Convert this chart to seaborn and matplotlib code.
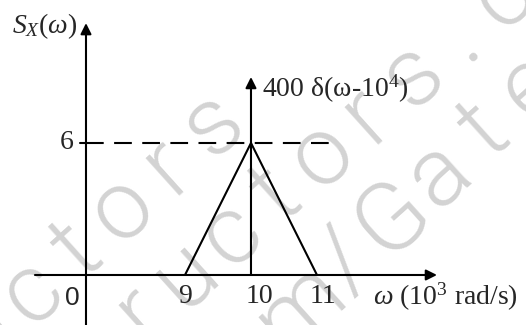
import numpy as np
import pandas as pd
import seaborn as sns
import matplotlib.pyplot as plt

# triangle part of the spectrum (x in 10^3 rad/s)
tri_w = [9, 10, 11]
tri_s = [0, 6, 0]
peak_level = 6
# impulse at w = 10 (drawn as an arrow, height is only symbolic)
imp_w = 10
imp_h = 9.0
imp_label = "400 δ(ω-10$^4$)"
tick_w = [9, 10, 11]
tick_lbl = ["9", "10", "11"]
origin = 7.5  # the w axis is broken: the y axis sits here and is labelled 0

sns.set_theme(style="white")
plt.rcParams["font.family"] = ["Liberation Serif", "DejaVu Serif"]
plt.rcParams["mathtext.fontset"] = "custom"
plt.rcParams["mathtext.rm"] = "Liberation Serif"
plt.rcParams["mathtext.it"] = "Liberation Serif:italic"

fig = plt.figure(figsize=(5.26, 3.25), dpi=100)

# watermark, letter by letter, on a background axes in pixel units
bg = fig.add_axes([0, 0, 1, 1], zorder=0)
bg.set_xlim(0, 526)
bg.set_ylim(325, 0)
bg.axis("off")


def watermark(s, idx, x0, y0, dx, dy):
    for i, ch in enumerate(s):
        k = i - idx
        bg.text(x0 + k * dx, y0 + k * dy, ch, color="#d3d3d3", fontsize=70,
                rotation=42, ha="center", va="center", family=["Roboto", "DejaVu Sans"],
                fontweight=300)


watermark("instructors", 6, 32, 292, 45, -42)
watermark("instructors.com", 4, 140, 313, 45.3, -39.7)
watermark(".com/Gate", 5, 392, 218, 46, -44)

ax = fig.add_axes([0, 0, 1, 1], zorder=1)
ax.patch.set_alpha(0)
ax.set_xlim(6.197, 14.167)
ax.set_ylim(-2.273, 12.5)
ax.axis("off")

lw = 1.5
arrow = dict(arrowstyle="-|>", color="black", lw=lw, mutation_scale=16, shrinkA=0, shrinkB=0)

# axes
ax.annotate("", xy=(12.818, 0), xytext=(6.727, 0), arrowprops=arrow)
ax.annotate("", xy=(origin, 11.45), xytext=(origin, -2.4), arrowprops=arrow)

# triangle
df = pd.DataFrame({"w": tri_w, "s": tri_s})
sns.lineplot(data=df, x="w", y="s", ax=ax, color="black", lw=lw, sort=False, estimator=None)

# dashed level line + tick
ax.plot([origin, 11.24], [peak_level, peak_level], color="black", lw=lw, dashes=(8.5, 5))
ax.plot([origin - 0.09, origin], [peak_level, peak_level], color="black", lw=lw)

# impulse
ax.annotate("", xy=(imp_w, imp_h), xytext=(imp_w, 0), arrowprops=arrow)
fs = 20
ax.text(imp_w + 0.16, imp_h - 0.55, imp_label, fontsize=fs, ha="left", va="center")

# labels
shift = [0.0, 0.13, 0.09]
for w, t, d in zip(tick_w, tick_lbl, shift):
    ax.text(w + d, -1.0, t, fontsize=fs, ha="center", va="center")
ax.text(origin - 0.21, -1.05, "0", fontsize=fs - 1, ha="center", va="center", family="Liberation Sans")
ax.text(origin - 0.18, peak_level, "6", fontsize=fs, ha="right", va="center")
ax.text(11.85, -1.0, r"$\omega$ (10$^3$ rad/s)", fontsize=fs, ha="left", va="center")
ax.text(origin - 0.13, 11.3, r"$S_X(\omega)$", fontsize=fs, ha="right", va="center")

fig.savefig("out.png", dpi=100)
